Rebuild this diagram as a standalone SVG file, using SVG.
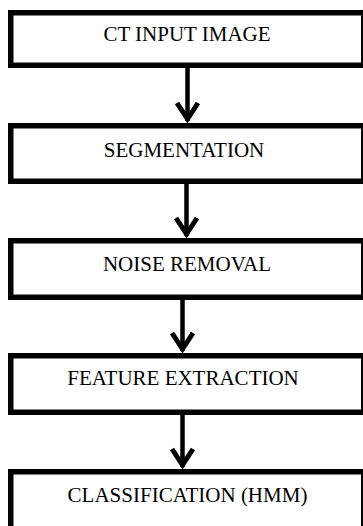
<svg xmlns="http://www.w3.org/2000/svg" width="363" height="526" viewBox="0 0 363 526">
<style>
.box{fill:#fff;stroke:#000;stroke-width:5.5}
.lbl{font-family:"Liberation Serif","Times New Roman",serif;font-size:21px;fill:#000;text-anchor:middle}
.shaft{stroke:#000;stroke-width:4.5;fill:none}
.head{stroke:#000;stroke-width:5;fill:none;stroke-linejoin:miter;stroke-linecap:butt}
</style>
<rect width="363" height="526" fill="#fff"/>
<g id="n1"><rect class="box" x="10.75" y="12.75" width="353" height="52.5"/><text class="lbl" x="187" y="41">CT INPUT IMAGE</text></g>
<g id="n2"><rect class="box" x="10.75" y="125.75" width="353" height="55.5"/><text class="lbl" x="184" y="157">SEGMENTATION</text></g>
<g id="n3"><rect class="box" x="10.75" y="240.75" width="353" height="56.5"/><text class="lbl" x="187" y="271">NOISE REMOVAL</text></g>
<g id="n4"><rect class="box" x="10.75" y="355.75" width="353" height="56.5"/><text class="lbl" x="183" y="385">FEATURE EXTRACTION</text></g>
<g id="n5"><rect class="box" x="10.75" y="471.75" width="353" height="62"/><text class="lbl" x="187.5" y="502">CLASSIFICATION (HMM)</text></g>
<g id="connectors">
<line class="shaft" x1="187.5" y1="68" x2="187.5" y2="121"/>
<polyline class="head" points="177,103 187.5,119 198,103"/>
<line class="shaft" x1="186.5" y1="184" x2="186.5" y2="236"/>
<polyline class="head" points="176,218 186.5,234 197,218"/>
<line class="shaft" x1="182.5" y1="300" x2="182.5" y2="351"/>
<polyline class="head" points="172,333 182.5,349 193,333"/>
<line class="shaft" x1="182.5" y1="415" x2="182.5" y2="467"/>
<polyline class="head" points="172,449 182.5,465 193,449"/>
</g>
</svg>
